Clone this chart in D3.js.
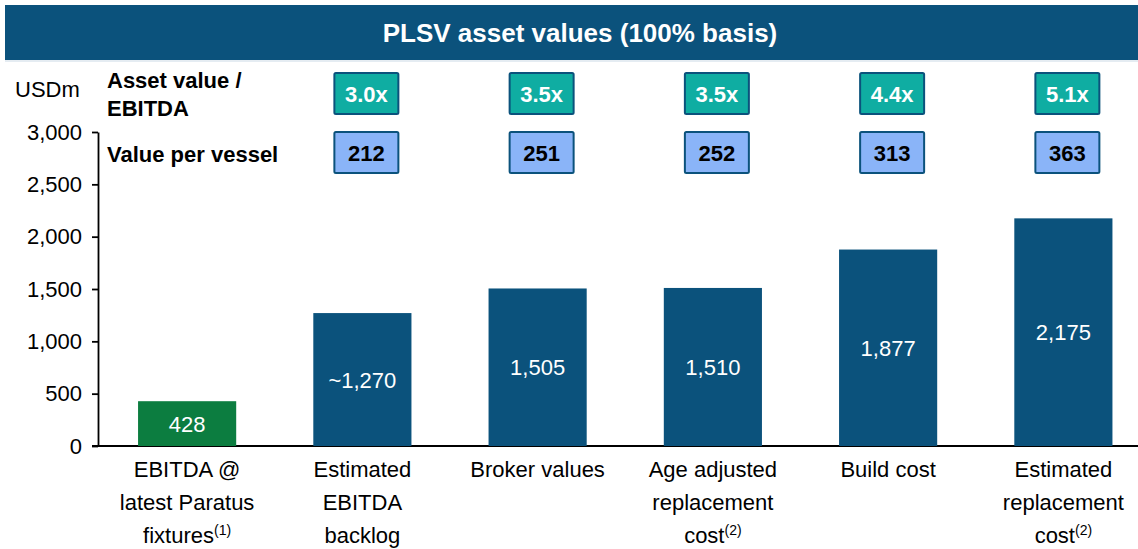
<!DOCTYPE html>
<html>
<head>
<meta charset="utf-8">
<script src="https://cdn.jsdelivr.net/npm/d3@7"></script>
<style>
  body { margin: 0; background: #fff; }
  svg text { font-family: "Liberation Sans", Arial, sans-serif; }
</style>
</head>
<body>
<div id="chart"></div>
<script>
// chart values
var categories = [
    ["EBITDA @", "latest Paratus", "fixtures|(1)"],
    ["Estimated", "EBITDA", "backlog"],
    ["Broker values"],
    ["Age adjusted", "replacement", "cost|(2)"],
    ["Build cost"],
    ["Estimated", "replacement", "cost|(2)"]
];
var values = [428, 1270, 1505, 1510, 1877, 2175];
var valueLabels = ["428", "~1,270", "1,505", "1,510", "1,877", "2,175"];
var barKinds = ["ebitda", "value", "value", "value", "value", "value"];
// boxes only for the asset value columns (index 1..5)
var boxColumns = [1, 2, 3, 4, 5];
var multiples = ["3.0x", "3.5x", "3.5x", "4.4x", "5.1x"];
var perVessel = ["212", "251", "252", "313", "363"];
var yTicks = [0, 500, 1000, 1500, 2000, 2500, 3000];

var colors = { ebitda: "#0c7d40", value: "#0b527c" };

var svgWidth = 1138, svgHeight = 549;
var margin = { top: 132, bottom: 103, left: 98, right: 0 };

var svg = d3.select("#chart").append("svg")
    .attr("width", svgWidth)
    .attr("height", svgHeight);

var yScale = d3.scaleLinear()
    .domain([0, 3000])
    .range([svgHeight - margin.bottom, margin.top]);

var xScale = d3.scaleBand()
    .domain(d3.range(values.length))
    .range([99.5, 1151])
    .paddingInner(0.44)
    .paddingOuter(0.22);

// title banner
svg.append("rect")
    .attr("x", 5).attr("y", 5)
    .attr("width", svgWidth - 5).attr("height", 55)
    .attr("fill", "#0b527c");
svg.append("line")
    .attr("x1", 5).attr("x2", svgWidth)
    .attr("y1", 61).attr("y2", 61)
    .attr("stroke", "#dde6ee").attr("stroke-width", 1.5);
svg.append("text")
    .attr("x", 580).attr("y", 42)
    .attr("text-anchor", "middle")
    .attr("fill", "#fff")
    .attr("font-size", 26).attr("font-weight", "bold")
    .text("PLSV asset values (100% basis)");

// axes
var yAxis = d3.axisLeft(yScale)
    .tickValues(yTicks)
    .tickFormat(d3.format(","))
    .tickSize(6)
    .tickSizeOuter(0)
    .tickPadding(10);

var gy = svg.append("g")
    .attr("class", "yAxis")
    .attr("transform", "translate(" + margin.left + ",0)")
    .call(yAxis);
gy.selectAll("text").attr("font-size", 22).attr("fill", "#000")
    .style("font-family", "Liberation Sans, Arial, sans-serif");
gy.selectAll("line, path").attr("stroke", "#000").attr("stroke-width", 1.8);

svg.append("line")
    .attr("x1", 92).attr("x2", svgWidth)
    .attr("y1", yScale(0)).attr("y2", yScale(0))
    .attr("stroke", "#000").attr("stroke-width", 1.8);

svg.append("text")
    .attr("x", 15).attr("y", 97)
    .attr("font-size", 22)
    .text("USDm");

// bars
svg.selectAll("rect.bar")
    .data(values)
    .enter().append("rect")
    .attr("class", "bar")
    .attr("x", (d, i) => xScale(i))
    .attr("width", xScale.bandwidth())
    .attr("y", d => yScale(d))
    .attr("height", d => yScale(0) - yScale(d))
    .attr("fill", (d, i) => colors[barKinds[i]]);

svg.selectAll("text.barLabel")
    .data(values)
    .enter().append("text")
    .attr("class", "barLabel")
    .attr("x", (d, i) => xScale(i) + xScale.bandwidth() / 2)
    .attr("y", d => (yScale(d) + yScale(0)) / 2 + 8)
    .attr("text-anchor", "middle")
    .attr("fill", "#fff")
    .attr("font-size", 22)
    .text((d, i) => valueLabels[i]);

// category labels, with superscript footnotes
categories.forEach(function(lines, i) {
    var cx = xScale(i) + xScale.bandwidth() / 2;
    lines.forEach(function(line, j) {
        var parts = line.split("|");
        var t = svg.append("text")
            .attr("x", cx).attr("y", 477 + j * 33)
            .attr("text-anchor", "middle")
            .attr("font-size", 22)
            .attr("fill", "#000");
        t.append("tspan").text(parts[0]);
        if (parts[1]) {
            t.append("tspan")
                .attr("font-size", 14)
                .attr("dy", -8)
                .text(parts[1]);
        }
    });
});

// row labels
svg.append("text").attr("x", 107).attr("y", 88)
    .attr("font-size", 22).attr("font-weight", "bold").text("Asset value /");
svg.append("text").attr("x", 107).attr("y", 116)
    .attr("font-size", 22).attr("font-weight", "bold").text("EBITDA");
svg.append("text").attr("x", 107).attr("y", 162)
    .attr("font-size", 22).attr("font-weight", "bold").text("Value per vessel");

// boxes
function drawBoxes(list, yTop, fill, textFill, cls) {
    var g = svg.selectAll("g." + cls)
        .data(list)
        .enter().append("g")
        .attr("class", cls)
        .attr("transform", (d, i) => "translate("
            + (xScale(boxColumns[i]) + xScale.bandwidth() / 2 + 4) + "," + yTop + ")");
    g.append("rect")
        .attr("x", -32).attr("y", 0)
        .attr("width", 64).attr("height", 41)
        .attr("rx", 1.5)
        .attr("fill", fill)
        .attr("stroke", "#0b527c")
        .attr("stroke-width", 2);
    g.append("text")
        .attr("x", 0).attr("y", 29)
        .attr("text-anchor", "middle")
        .attr("font-size", 22)
        .attr("font-weight", "bold")
        .attr("fill", textFill)
        .text(d => d);
}

drawBoxes(multiples, 73, "#0fada2", "#fff", "multBox");
drawBoxes(perVessel, 132, "#8ab4f8", "#000", "vesselBox");
</script>
</body>
</html>
